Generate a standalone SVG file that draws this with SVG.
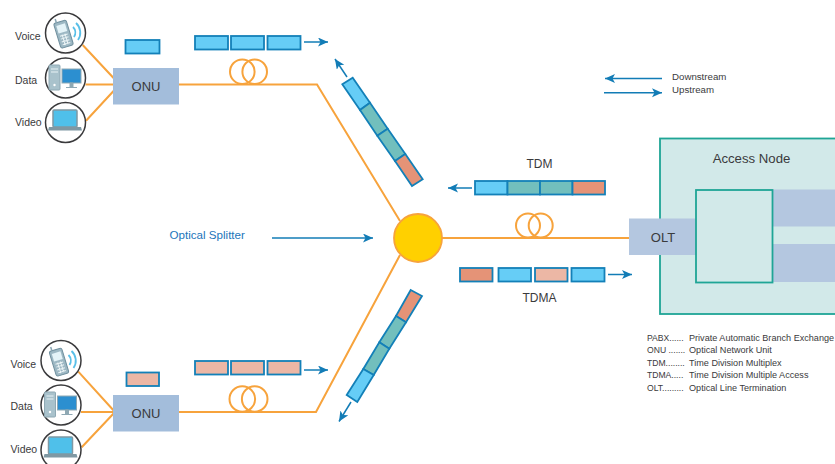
<svg xmlns="http://www.w3.org/2000/svg" width="835" height="464" viewBox="0 0 835 464">
<style>
text{font-family:"Liberation Sans",Arial,sans-serif;fill:#3a3a3c}
.lbl{font-size:10.5px}
.box{font-size:13px;text-anchor:middle}
.mid{font-size:12px;text-anchor:middle}
.leg{font-size:9.100px}
.key{font-size:8.600px}
.dir{font-size:9.700px}
.f{fill:none;stroke:#f7a33c;stroke-width:2}
.a{fill:none;stroke:#127cb6;stroke-width:1.500;marker-end:url(#ah)}
.c{stroke:#1380b8;stroke-width:1.800}
.b{fill:#66cdf6}.t{fill:#72bfbd}.o{fill:#e59377}.p{fill:#ecb7a5}
.ring{fill:#fff;stroke:#3a3a3c;stroke-width:1.500}
.onu{fill:#a3bddb}
.blk{fill:#b4c7e0}
</style>
<defs>
<marker id="ah" markerUnits="userSpaceOnUse" markerWidth="12" markerHeight="10" refX="10" refY="4.500" orient="auto">
<path d="M0 0L10 4.500L0 9L2.500 4.500Z" fill="#127cb6"/>
</marker>
<symbol id="phone" overflow="visible">
<g transform="rotate(-17)">
<rect x="-7" y="-13" width="13" height="26" rx="2" fill="#9db8c4" stroke="#6f8f9e"/>
<rect x="-5" y="-10" width="9" height="8" fill="#e4f3f8"/>
<path d="M-4.500 1h8M-4.500 4h8M-4.500 7h8M-4.500 10h8M-2 0v11M1 0v11" stroke="#edf5f7" stroke-width="1"/>
<path d="M-4-13v-4" stroke="#8aa6b3" stroke-width="1.500"/>
</g>
<path d="M9-7a8 8 0 0 1 1 10M12-11a13 13 0 0 1 2 17" fill="none" stroke="#58bfe8" stroke-width="1.800"/>
</symbol>
<symbol id="desk" overflow="visible">
<rect x="-16" y="-14" width="11" height="25" rx="1" fill="#a9c2cc" stroke="#8fa9b4"/>
<path d="M-14-10h7M-14-7h7" stroke="#e8f2f5"/>
<circle cx="-10.500" cy="6" r="1.200" fill="#fff"/>
<rect x="-3" y="-10" width="19" height="14" fill="#2c8fd0" stroke="#8fa9b4"/>
<path d="M5 4h3v4h-3zM1 8.500h11" fill="#8fa9b4" stroke="#8fa9b4"/>
</symbol>
<symbol id="lap" overflow="visible">
<rect x="-12" y="-12" width="24" height="17" rx="1" fill="#4fc0ea" stroke="#7f98a3" stroke-width="1.500"/>
<path d="M-16 5h32l1 3.500h-34Z" fill="#7f98a3"/>
</symbol>
</defs>

<g id="connectors">
<path class="f" d="M82.700 45L114 78.500M85.500 84.500H114M86 120.700L114 90.500"/>
<path class="f" d="M179 84.500H317L400 221"/>
<path class="f" d="M78.300 371.700L115 412M81 412H115M81.700 447.300L115 412"/>
<path class="f" d="M179 412H316L400 255"/>
<path class="f" d="M442 238H630"/>
<circle class="f" cx="242.300" cy="71.700" r="12.300"/><circle class="f" cx="254.700" cy="71.700" r="12.300"/>
<circle class="f" cx="242.300" cy="399" r="12.800"/><circle class="f" cx="254.700" cy="399" r="12.800"/>
<circle class="f" cx="528" cy="225.500" r="12"/><circle class="f" cx="540.700" cy="225.500" r="12"/>
<path class="a" d="M304 42H328"/>
<path class="a" d="M304 370H328"/>
<path class="a" d="M347 77L335 59"/>
<path class="a" d="M351 402L339 421.500"/>
<path class="a" d="M472 188H448"/>
<path class="a" d="M608 274.500H632"/>
<path class="a" d="M272 238H373"/>
<path class="a" d="M662 78.500H605"/>
<path class="a" d="M604 92.700H662"/>
</g>

<g id="access-node">
<rect x="660" y="138.500" width="180" height="175.500" fill="#d2e9e9" stroke="#1fa596" stroke-width="1.800"/>
<rect class="blk" x="773" y="189.500" width="62" height="37"/>
<rect class="blk" x="773" y="244" width="62" height="38"/>
<text x="751.500" y="162.500" class="mid" style="font-size:13.200px">Access Node</text>
</g>
<g id="olt">
<rect class="blk" x="629" y="218.500" width="67" height="36.500"/>
<text x="663" y="241.500" class="box">OLT</text>
</g>
<rect id="inner-box" x="696" y="190" width="76.500" height="92.500" fill="#d2e9e9" stroke="#1fa596" stroke-width="1.800"/>

<g id="splitter"><circle cx="418" cy="238" r="24" fill="#ffd000" stroke="#f7a33c" stroke-width="1.800"/></g>
<text id="splitter-label" x="169.500" y="239" class="lbl" style="fill:#1b75bb;font-size:11.600px">Optical Splitter</text>

<g id="onu-top">
<rect class="onu" x="113" y="68" width="66" height="36.500"/>
<text x="146" y="90.500" class="box">ONU</text>
</g>
<g id="onu-bottom">
<rect class="onu" x="113" y="395" width="66" height="36.500"/>
<text x="146" y="417.500" class="box">ONU</text>
</g>

<g id="voice-top"><circle class="ring" cx="65.500" cy="33" r="20"/><use href="#phone" x="64" y="34"/><text x="15" y="39.500" class="lbl">Voice</text></g>
<g id="data-top"><circle class="ring" cx="65.500" cy="78" r="20"/><use href="#desk" x="65" y="79"/><text x="15" y="83.500" class="lbl">Data</text></g>
<g id="video-top"><circle class="ring" cx="65.500" cy="122.500" r="20"/><use href="#lap" x="65" y="122"/><text x="15" y="126" class="lbl">Video</text></g>
<g id="voice-bottom"><circle class="ring" cx="61" cy="360.500" r="20"/><use href="#phone" x="59.500" y="362"/><text x="10.500" y="367.500" class="lbl">Voice</text></g>
<g id="data-bottom"><circle class="ring" cx="61" cy="405" r="20"/><use href="#desk" x="60.500" y="406"/><text x="10.500" y="410" class="lbl">Data</text></g>
<g id="video-bottom"><circle class="ring" cx="61" cy="450" r="20"/><use href="#lap" x="60.500" y="449"/><text x="10.500" y="452.500" class="lbl">Video</text></g>

<g id="cells-top">
<rect class="c b" x="125.500" y="40" width="34" height="13.500"/>
<rect class="c b" x="195" y="36" width="33" height="13.500"/>
<rect class="c b" x="231" y="36" width="33" height="13.500"/>
<rect class="c b" x="267.500" y="36" width="33" height="13.500"/>
</g>
<g id="cells-bottom">
<rect class="c p" x="126.500" y="372.500" width="32.500" height="13.500"/>
<rect class="c p" x="195" y="361" width="33" height="13.500"/>
<rect class="c p" x="231" y="361" width="33" height="13.500"/>
<rect class="c p" x="267.500" y="361" width="33" height="13.500"/>
</g>
<g id="diag-top">
<path class="c b" d="M342.300 84.300L352.700 77.700L370 102.700L360 110Z"/>
<path class="c t" d="M360 110L370 102.700L387.700 128.700L377.300 135.700Z"/>
<path class="c t" d="M377.300 135.700L387.700 128.700L405.300 154L395 161Z"/>
<path class="c o" d="M395 161L405.300 154L422.700 179.300L412 186Z"/>
</g>
<g id="diag-bottom">
<path class="c o" d="M410.700 290L422 296L406 322.300L396 316Z"/>
<path class="c t" d="M396 316L406 322.300L389.300 348.700L379.300 342.300Z"/>
<path class="c t" d="M379.300 342.300L389.300 348.700L373.700 375L363.300 369Z"/>
<path class="c b" d="M363.300 369L373.700 375L357.300 402L346.700 395Z"/>
</g>
<g id="tdm">
<rect class="c b" x="475" y="181" width="32.500" height="13.500"/>
<rect class="c t" x="507.500" y="181" width="32.500" height="13.500"/>
<rect class="c t" x="540" y="181" width="32.500" height="13.500"/>
<rect class="c o" x="572.500" y="181" width="32.500" height="13.500"/>
<text x="539.500" y="167.500" class="mid">TDM</text>
</g>
<g id="tdma">
<rect class="c o" x="460" y="268" width="32.500" height="13.500"/>
<rect class="c b" x="498.500" y="268" width="32.500" height="13.500"/>
<rect class="c p" x="535" y="268" width="32.500" height="13.500"/>
<rect class="c b" x="571.500" y="268" width="33" height="13.500"/>
<text x="539.500" y="302" class="mid">TDMA</text>
</g>

<g id="legend-direction">
<text x="672" y="79.500" class="dir">Downstream</text>
<text x="672" y="92.500" class="dir">Upstream</text>
</g>
<g id="legend">
<text x="647" y="341" class="key">PABX......</text><text x="689" y="341" class="leg">Private Automatic Branch Exchange</text>
<text x="647" y="353.300" class="key">ONU .......</text><text x="689" y="353.300" class="leg">Optical Network Unit</text>
<text x="647" y="365.600" class="key">TDM........</text><text x="689" y="365.600" class="leg">Time Division Multiplex</text>
<text x="647" y="378" class="key">TDMA.....</text><text x="689" y="378" class="leg">Time Division Multiple Access</text>
<text x="647" y="390.500" class="key">OLT.........</text><text x="689" y="390.500" class="leg">Optical Line Termination</text>
</g>
</svg>
